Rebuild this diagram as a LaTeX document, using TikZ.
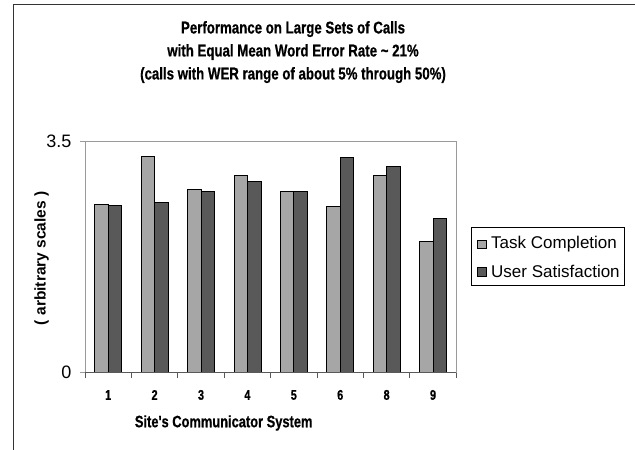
\documentclass[tikz,border=0pt]{standalone}
\usepackage{fontspec}
\setmainfont{Liberation Sans}
\newfontfamily\narrowfont[FakeStretch=0.78,BoldFeatures={FakeBold=0.6}]{Liberation Sans}
\usetikzlibrary{calc}

\definecolor{taskgray}{HTML}{A6A6A6}
\definecolor{usergray}{HTML}{595959}
\definecolor{framegray}{HTML}{333333}
\definecolor{plotgray}{HTML}{9A9A9A}

\tikzset{
  taskbar/.style={fill=taskgray,draw=black,line width=0.7pt},
  userbar/.style={fill=usergray,draw=black,line width=0.7pt},
  catlabel/.style={font=\narrowfont\bfseries\fontsize{14}{15}\selectfont,inner sep=0pt},
  ticklabel/.style={font=\fontsize{18}{20}\selectfont,inner sep=0pt,anchor=east},
  legendtext/.style={font=\fontsize{17}{19}\selectfont,inner sep=0pt,anchor=west},
  legendbox/.style={draw=black,line width=0.6pt,minimum size=8.5pt,inner sep=0pt}
}

\begin{document}
\begin{tikzpicture}[x=46.4pt,y=66.1pt]

\useasboundingbox (-1.832,-1.169) rectangle (11.853,5.638);

% chart frame
\draw[framegray,line width=1.5pt] (-1.541,-1.169) -- (-1.541,5.567) -- (11.853,5.567);

% title
\node[align=center,font=\narrowfont\bfseries\fontsize{17}{23}\selectfont] (title) at (4.483,4.85)
  {Performance on Large Sets of Calls\\with Equal Mean Word Error Rate \textasciitilde\ 21\%\\(calls with WER range of about 5\% through 50\%)};

% plot area
\coordinate (O) at (0,0);
\coordinate (T) at (0,3.5);
\coordinate (TR) at (8,3.5);
\coordinate (R) at (8,0);
\draw[plotgray,line width=0.8pt] (T)--(TR)--(R);
\draw[plotgray,line width=0.8pt] (O)--(T);
\draw[plotgray,line width=0.8pt] (O)-- +(-0.108,0);
\draw[plotgray,line width=0.8pt] (T)-- +(-0.108,0);

% bars
\draw[taskbar] (0.209,0) rectangle (0.5,2.55);
\draw[userbar] (0.5,0) rectangle (0.791,2.53);
\draw[taskbar] (1.209,0) rectangle (1.5,3.28);
\draw[userbar] (1.5,0) rectangle (1.791,2.57);
\draw[taskbar] (2.209,0) rectangle (2.5,2.77);
\draw[userbar] (2.5,0) rectangle (2.791,2.75);
\draw[taskbar] (3.209,0) rectangle (3.5,2.99);
\draw[userbar] (3.5,0) rectangle (3.791,2.89);
\draw[taskbar] (4.209,0) rectangle (4.5,2.74);
\draw[userbar] (4.5,0) rectangle (4.791,2.75);
\draw[taskbar] (5.209,0) rectangle (5.5,2.51);
\draw[userbar] (5.5,0) rectangle (5.791,3.26);
\draw[taskbar] (6.209,0) rectangle (6.5,2.99);
\draw[userbar] (6.5,0) rectangle (6.791,3.12);
\draw[taskbar] (7.209,0) rectangle (7.5,1.98);
\draw[userbar] (7.5,0) rectangle (7.791,2.33);

% x axis with ticks
\draw[usergray,line width=1pt] (O)--(R);
\draw[usergray,line width=0.8pt] (0,0)--(0,-0.076) (1,0)--(1,-0.076) (2,0)--(2,-0.076)
  (3,0)--(3,-0.076) (4,0)--(4,-0.076) (5,0)--(5,-0.076) (6,0)--(6,-0.076)
  (7,0)--(7,-0.076) (8,0)--(8,-0.076);

% axis labels
\node[ticklabel] (y35) at (-0.287,3.5) {3.5};
\node[ticklabel] (y0) at (-0.287,0) {0};
\node[catlabel] (c1) at (0.5,-0.337) {1};
\node[catlabel] (c2) at (1.5,-0.337) {2};
\node[catlabel] (c3) at (2.5,-0.337) {3};
\node[catlabel] (c4) at (3.5,-0.337) {4};
\node[catlabel] (c5) at (4.5,-0.337) {5};
\node[catlabel] (c6) at (5.5,-0.337) {6};
\node[catlabel] (c8) at (6.5,-0.337) {8};
\node[catlabel] (c9) at (7.5,-0.337) {9};
\node[font=\narrowfont\bfseries\fontsize{16.5}{19}\selectfont] (xtitle) at (2.989,-0.761) {Site's Communicator System};
\node[rotate=90,font=\bfseries\fontsize{15.5}{17}\selectfont] (ytitle) at (-0.933,1.731) {( arbitrary scales )};

% legend
\draw[black,line width=0.7pt] (8.319,1.327) rectangle (11.616,2.194);
\node[legendbox,fill=taskgray] (ktask) at (8.556,1.943) {};
\node[legendbox,fill=usergray] (kuser) at (8.556,1.528) {};
\node[legendtext] (ltask) at (8.75,1.943) {Task Completion};
\node[legendtext] (luser) at (8.75,1.528) {User Satisfaction};

\end{tikzpicture}
\end{document}
